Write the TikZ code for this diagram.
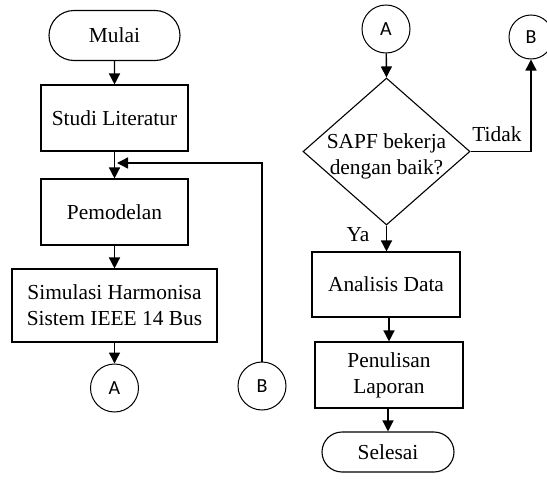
\documentclass[tikz,border=0pt]{standalone}
\usepackage{fontspec}
\setmainfont{Liberation Serif}
\newfontfamily\conn{Carlito}
\usetikzlibrary{shapes.geometric,shapes.misc,arrows.meta}
\begin{document}
\begin{tikzpicture}[x=1pt,y=-1pt,
  every node/.style={font=\fontsize{21.4}{26}\selectfont, align=center},
  proc/.style={draw, line width=1.1pt, rectangle, inner sep=0pt},
  term/.style={draw, line width=1.1pt, rounded rectangle, inner sep=0pt},
  conncircle/.style={draw, line width=1pt, circle, inner sep=0pt, minimum size=48pt, font=\conn\fontsize{20}{24}\selectfont},
  decision/.style={draw, line width=1.1pt, diamond, inner sep=0pt},
  arr/.style={line width=1.4pt, -{Triangle[length=11pt,width=11pt]}},
  lbl/.style={font=\fontsize{21.4}{26}\selectfont}
]
\useasboundingbox (0,0) rectangle (547,482);
% left column
\node[term, minimum width=131pt, minimum height=50pt] (mulai) at (114.5,35.5) {Mulai};
\node[proc, minimum width=147pt, minimum height=66pt] (studi) at (114.5,118) {Studi Literatur};
\node[proc, minimum width=147pt, minimum height=66pt] (model) at (114.5,212) {Pemodelan};
\node[proc, minimum width=205pt, minimum height=73pt] (sim) at (114.5,305.5) {Simulasi Harmonisa\\Sistem IEEE 14 Bus};
\node[conncircle] (a1) at (114.5,388) {A};
\node[conncircle] (b1) at (262,386) {B};
\coordinate (m) at (117,163);
% right column
\node[conncircle, minimum size=48pt] (a2) at (386,29) {A};
\node[conncircle, minimum size=44pt] (b2) at (531,37) {B};
\node[decision, minimum width=167pt, minimum height=147pt] (dec) at (386.5,151.5) {};
\node at (386.5,156) {SAPF bekerja\\dengan baik?};
\node[proc, minimum width=148pt, minimum height=65pt] (anal) at (386,284.5) {Analisis Data};
\node[proc, minimum width=148pt, minimum height=66pt] (tulis) at (389,375) {Penulisan\\Laporan};
\node[term, minimum width=132pt, minimum height=40pt] (selesai) at (388,452) {Selesai};
\node[lbl] (tidak) at (497,134) {Tidak};
\node[lbl] (ya) at (358,235) {Ya};
% connectors
\draw[arr] (mulai) -- (studi);
\draw[arr] (studi) -- (model);
\draw[arr] (model) -- (sim);
\draw[arr] (sim) -- (a1);
\draw[arr] (b1.north) |- (m);
\draw[arr] (a2) -- (dec.north);
\draw[arr] (dec.east) -| (b2.south);
\draw[arr] (dec.south) -- (dec.south |- anal.north);
\draw[arr] (tulis.north |- anal.south) -- (tulis.north);
\draw[arr] (tulis.south -| selesai.north) -- (selesai.north);
\end{tikzpicture}
\end{document}
